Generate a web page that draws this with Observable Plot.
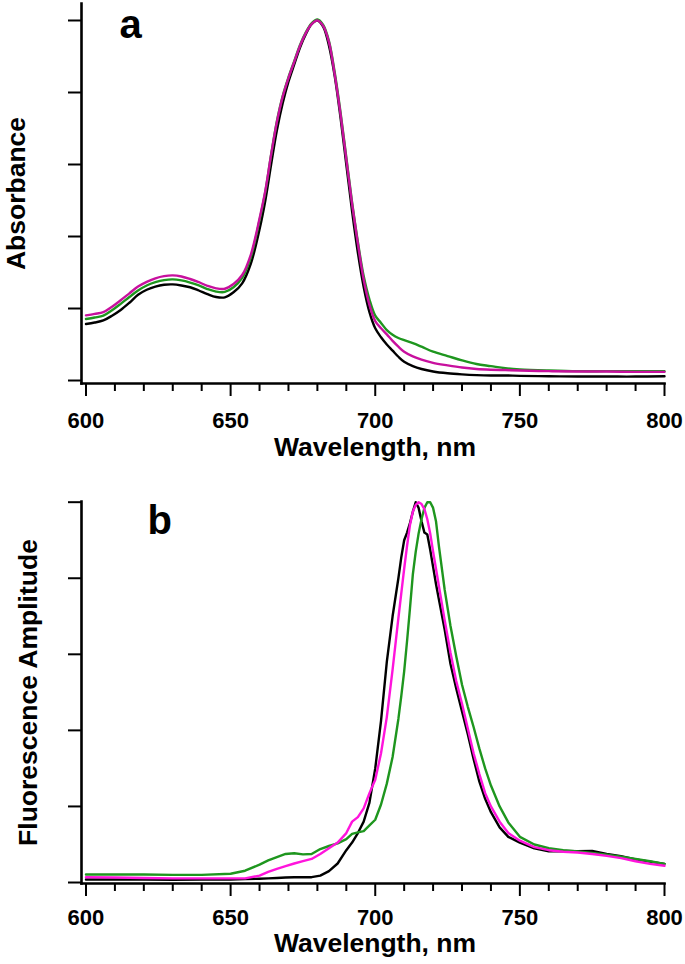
<!DOCTYPE html>
<html>
<head>
<meta charset="utf-8">
<script src="https://cdn.jsdelivr.net/npm/d3@7"></script>
<script src="https://cdn.jsdelivr.net/npm/@observablehq/plot@0.6"></script>
<style>
  html, body { margin: 0; padding: 0; background: #fff; }
  #chart { width: 685px; }
  #chart svg { display: block; }
</style>
</head>
<body>
<div id="chart"></div>
<script>
// ---------- Panel a: absorbance ----------
const absWl = [600,603,606,609,612,615,618,621,624,627,
  630,633,636,639,642,645,648,651,654,657,
  660,662,664,666,668,670,672,674,676,678,
  680,682,684,686,688,690,692,694,696,698,
  700,702,704,706,708,710,713,716,720,725,
  730,735,740,745,750,760,770,780,790,800];
const absBlack = [0.157,0.161,0.167,0.18,0.196,0.216,0.238,0.252,0.261,0.266,
  0.267,0.264,0.259,0.25,0.24,0.232,0.231,0.245,0.27,0.325,
  0.42,0.5,0.6,0.695,0.77,0.83,0.878,0.925,0.962,0.99,
  1.0,0.983,0.93,0.845,0.73,0.6,0.47,0.355,0.26,0.19,
  0.145,0.12,0.1,0.083,0.066,0.052,0.04,0.032,0.025,0.02,
  0.017,0.015,0.014,0.014,0.013,0.012,0.011,0.011,0.011,0.012];
const absGreen = [0.171,0.175,0.18,0.195,0.213,0.232,0.25,0.264,0.273,0.279,
  0.281,0.278,0.272,0.264,0.254,0.247,0.246,0.259,0.285,0.343,
  0.445,0.524,0.627,0.72,0.79,0.842,0.887,0.932,0.967,0.992,
  1.003,0.988,0.943,0.855,0.745,0.62,0.495,0.385,0.29,0.225,
  0.18,0.16,0.14,0.127,0.118,0.112,0.104,0.094,0.08,0.068,
  0.056,0.046,0.04,0.034,0.031,0.028,0.026,0.026,0.026,0.026];
const absMagenta = [0.181,0.185,0.19,0.205,0.223,0.242,0.261,0.274,0.284,0.29,
  0.292,0.289,0.282,0.273,0.263,0.256,0.255,0.268,0.293,0.35,
  0.45,0.527,0.627,0.718,0.788,0.84,0.885,0.93,0.965,0.99,
  1.0,0.985,0.94,0.85,0.74,0.615,0.49,0.38,0.28,0.21,
  0.165,0.145,0.128,0.11,0.094,0.08,0.067,0.058,0.049,0.042,
  0.036,0.032,0.03,0.029,0.028,0.026,0.025,0.025,0.024,0.024];

// ---------- Panel b: fluorescence ----------
const flWl = [600,610,620,630,640,650,
  655,660,663,666,669,672,675,678,681,684,687,690,
  692,694,696,698,700,702,704,706,708,
  709,710,711,712,713,714,715,716,717,718,719,720,
  721,722,724,726,728,730,732,734,736,738,740,
  743,746,750,755,760,765,770,775,780,785,790,795,800];
const flBlack = [0.008,0.008,0.008,0.007,0.008,0.008,
  0.009,0.01,0.011,0.012,0.013,0.014,0.014,0.014,0.018,0.03,0.05,0.085,
  0.105,0.13,0.16,0.21,0.3,0.425,0.58,0.7,0.8,
  0.855,0.9,0.92,0.945,0.975,1.0,0.985,0.95,0.92,0.915,0.875,0.83,
  0.785,0.745,0.665,0.575,0.51,0.45,0.39,0.325,0.265,0.22,0.185,
  0.145,0.12,0.105,0.09,0.082,0.083,0.082,0.083,0.075,0.069,0.061,0.055,0.049];
const flGreen = [0.021,0.021,0.021,0.02,0.02,0.023,
  0.031,0.047,0.058,0.067,0.075,0.077,0.074,0.075,0.088,0.096,0.103,0.114,
  0.128,0.132,0.135,0.15,0.165,0.205,0.26,0.33,0.43,
  0.49,0.555,0.635,0.72,0.81,0.87,0.918,0.955,0.985,1.0,1.0,0.985,
  0.95,0.885,0.77,0.675,0.595,0.52,0.462,0.409,0.352,0.3,0.255,
  0.2,0.158,0.12,0.1,0.09,0.085,0.082,0.078,0.073,0.068,0.062,0.056,0.049];
const flMagenta = [0.014,0.013,0.012,0.011,0.011,0.011,
  0.011,0.018,0.028,0.036,0.043,0.05,0.056,0.062,0.075,0.09,0.105,0.13,
  0.16,0.172,0.195,0.235,0.27,0.34,0.435,0.56,0.695,
  0.76,0.825,0.885,0.94,0.975,0.993,1.0,0.995,0.982,0.955,0.918,0.87,
  0.825,0.78,0.69,0.605,0.53,0.47,0.405,0.34,0.285,0.235,0.2,
  0.16,0.13,0.11,0.093,0.085,0.081,0.079,0.075,0.07,0.064,0.056,0.049,0.044];

// ---------- Ticks and labels ----------
const xMajorTicks = [600, 650, 700, 750, 800];
const xMinorTicks = [610,620,630,640,660,670,680,690,710,720,730,740,760,770,780,790];
const yTicks = [0, 0.2, 0.4, 0.6, 0.8, 1.0];
const xTitle = "Wavelength, nm";
const yTitleA = "Absorbance";
const yTitleB = "Fluorescence Amplitude";

const FONT = "'Liberation Sans', Arial, Helvetica, sans-serif";

function rows(wl, vals) { return wl.map((w, i) => ({wl: w, v: vals[i]})); }

function panel(opts) {
  const lines = opts.series.map(s => Plot.line(rows(opts.wl, s.vals), {
    x: "wl", y: "v", stroke: s.color, strokeWidth: 2.4, curve: opts.curve
  }));
  return Plot.plot({
    width: 685,
    height: opts.height,
    marginLeft: 81,
    marginRight: 21,
    marginTop: opts.marginTop,
    marginBottom: opts.marginBottom,
    style: {fontFamily: FONT, fontWeight: "bold", fontSize: "22px", color: "#000", background: "#fff", overflow: "visible"},
    x: {domain: [598.45, 800], axis: null},
    y: {domain: opts.yDomain, axis: null},
    marks: [
      Plot.axisX({ticks: xMinorTicks, tickSize: 8, strokeWidth: 2, tickFormat: () => "", label: null}),
      Plot.axisX({ticks: xMajorTicks, tickSize: 13, strokeWidth: 2, tickPadding: opts.tickPad,
        tickFormat: d => String(d), label: null, fontSize: 22, fontWeight: "bold"}),
      Plot.axisY({ticks: yTicks, tickSize: 13, strokeWidth: 2, tickFormat: () => "", label: null}),
      ...lines,
      Plot.frame({anchor: "left", strokeWidth: 2.6}),
      Plot.frame({anchor: "bottom", strokeWidth: 2.6}),
      Plot.text([xTitle], {frameAnchor: "bottom", textAnchor: "middle", lineAnchor: "middle",
        dx: 2, dy: opts.xTitleDy, fontSize: 26.5, fontWeight: "bold"}),
      Plot.text([opts.yTitle], {frameAnchor: "left", textAnchor: "middle", lineAnchor: "middle",
        rotate: -90, dx: opts.yTitleDx, fontSize: 26.5, fontWeight: "bold"}),
      Plot.text([opts.letter], {frameAnchor: "top-left", textAnchor: "start", lineAnchor: "bottom",
        dx: opts.letterDx, dy: opts.letterDy, fontSize: 40, fontWeight: "bold"})
    ]
  });
}

const chart = document.getElementById("chart");
chart.appendChild(panel({
  wl: absWl,
  series: [
    {vals: absBlack, color: "#000000"},
    {vals: absGreen, color: "#1e961e"},
    {vals: absMagenta, color: "#c8109e"}
  ],
  curve: "catmull-rom",
  height: 470, marginTop: 3, marginBottom: 87,
  yDomain: [-0.0083, 1.0472],
  tickPad: 16, xTitleDy: 64,
  yTitle: yTitleA, yTitleDx: -65,
  letter: "a", letterDx: 38, letterDy: 34
}));
chart.appendChild(panel({
  wl: flWl,
  series: [
    {vals: flBlack, color: "#000000"},
    {vals: flGreen, color: "#1e961e"},
    {vals: flMagenta, color: "#ff14dc"}
  ],
  curve: "linear",
  height: 494, marginTop: 31, marginBottom: 81,
  yDomain: [-0.0026, 1.0018],
  tickPad: 13, xTitleDy: 60,
  yTitle: yTitleB, yTitleDx: -53,
  letter: "b", letterDx: 66, letterDy: 32
}));
</script>
</body>
</html>
